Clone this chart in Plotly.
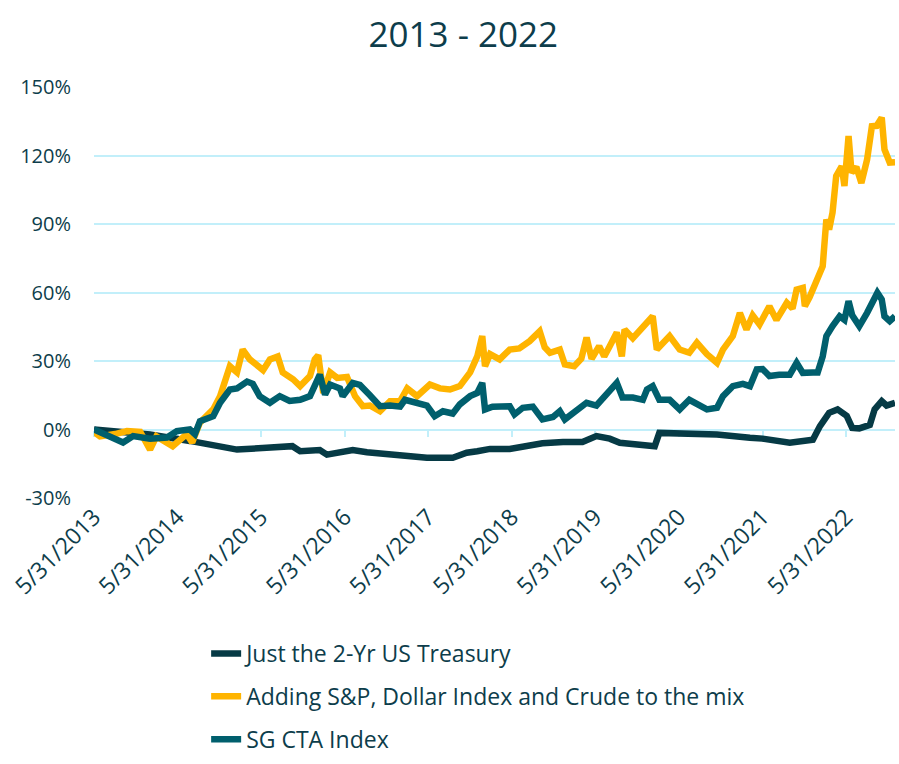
import plotly.graph_objects as go

# ---------------- data (cumulative return, %) ----------------
treasury_dates = ["2013-05-31","2014-01-31","2014-07-24","2014-11-03","2015-02-15","2015-06-24",
    "2015-10-03","2015-10-15","2015-11-18","2016-02-12","2016-03-14","2016-05-10","2016-07-05",
    "2016-09-05","2016-11-01","2017-01-28","2017-05-25","2017-09-15","2017-11-15","2017-12-31",
    "2018-02-25","2018-05-22","2018-07-18","2018-10-12","2019-01-10","2019-04-05","2019-06-05",
    "2019-08-02","2019-09-15","2019-11-28","2020-02-15","2020-03-06","2020-06-15","2020-11-13",
    "2021-04-06","2021-05-31","2021-09-27","2022-01-06","2022-02-06","2022-03-18","2022-04-24",
    "2022-06-03","2022-06-27","2022-07-28","2022-09-12","2022-10-03","2022-11-03","2022-11-24",
    "2022-12-31"]
treasury_vals = [0,-2.2,-5,-6.6,-8.8,-8,-8,-7.3,-9.5,-9,-11,-10,-9,-10,-10.5,-11.5,-12.4,-12.4,
    -10.2,-9.5,-8.5,-8.5,-7.3,-6,-5.5,-5.5,-2.9,-4,-5.8,-6.6,-7.3,-1.5,-1.5,-2.2,-3.6,-4,-5.8,
    -4.5,1.5,7.3,8.8,6,0.7,0.5,2,8.8,12.4,10.5,11.7]

mix_dates = ["2013-05-31","2013-06-26","2013-08-31","2013-10-22","2013-12-19","2014-01-31",
    "2014-02-28","2014-05-10","2014-07-10","2014-08-03","2014-09-06","2014-11-03","2014-12-03",
    "2015-01-15","2015-02-15","2015-03-12","2015-04-12","2015-05-12","2015-06-09","2015-07-09",
    "2015-08-12","2015-09-03","2015-10-18","2015-11-18","2015-12-31","2016-01-21","2016-02-05",
    "2016-02-27","2016-03-28","2016-04-28","2016-06-10","2016-07-15","2016-08-18","2016-09-18",
    "2016-11-01","2016-12-15","2017-01-28","2017-02-28","2017-04-12","2017-06-07","2017-07-21",
    "2017-09-03","2017-10-16","2017-11-30","2017-12-31","2018-01-22","2018-02-03","2018-02-25",
    "2018-04-08","2018-05-22","2018-07-03","2018-08-17","2018-09-30","2018-10-22","2018-11-14",
    "2018-12-27","2019-01-18","2019-02-28","2019-03-31","2019-04-23","2019-05-15","2019-06-17",
    "2019-07-09","2019-08-02","2019-09-02","2019-09-24","2019-10-06","2019-11-11","2019-12-25",
    "2020-02-06","2020-02-24","2020-03-20","2020-04-20","2020-06-03","2020-07-15","2020-08-17",
    "2020-09-30","2020-11-13","2020-12-09","2021-01-21","2021-02-21","2021-03-22","2021-04-18",
    "2021-05-18","2021-06-30","2021-07-31","2021-09-14","2021-10-09","2021-10-27","2021-11-23",
    "2021-12-02","2021-12-23","2022-01-27","2022-02-18","2022-03-06","2022-03-18","2022-04-02",
    "2022-04-18","2022-05-12","2022-05-24","2022-06-11","2022-06-24","2022-07-15","2022-08-06",
    "2022-08-31","2022-09-21","2022-10-12","2022-11-03","2022-11-15","2022-12-08","2022-12-31"]
mix_vals = [-1,-3,-2,-0.7,-1,-8.8,-3,-7.3,-2,-5.7,3,8.8,14.6,27.7,25,35,30.7,28,26,30.7,32,25,
    22,19,23.4,30.7,32.5,16,25,22.6,23,14.6,10.2,10.5,8,12.4,12.4,18,14.6,19.7,18,17.5,19,25,
    32,40.9,27.7,33,30.7,35,35.5,38.7,43,36,33.6,35,28.5,27.7,31,40.3,31,36.5,32,36.5,42.5,32,
    43.8,40,45.3,49.6,35,38,40.9,35,33.6,38,33,29.2,35,40.9,51,43.8,50,46,54,48,55.5,53,61.3,
    62,54,58,67,71.5,92,87.6,95,111,115.3,106.6,128.5,112.5,115,108,118.2,132.8,133,136.6,
    122.6,116.9,117]

cta_dates = ["2013-05-31","2013-08-09","2013-10-05","2013-11-18","2014-01-31","2014-04-15",
    "2014-05-28","2014-07-24","2014-08-15","2014-09-06","2014-11-03","2014-12-03","2015-01-15",
    "2015-02-15","2015-03-31","2015-04-25","2015-05-25","2015-07-09","2015-08-21","2015-10-03",
    "2015-11-18","2015-12-31","2016-01-31","2016-02-12","2016-03-06","2016-03-28","2016-05-10",
    "2016-05-22","2016-07-05","2016-08-05","2016-09-18","2016-11-01","2016-12-15","2017-01-28",
    "2017-02-18","2017-04-12","2017-05-25","2017-06-28","2017-08-03","2017-09-15","2017-10-16",
    "2017-11-30","2017-12-31","2018-01-22","2018-02-03","2018-03-08","2018-04-08","2018-05-22",
    "2018-06-12","2018-07-18","2018-08-31","2018-10-12","2018-11-27","2018-12-27","2019-01-18",
    "2019-03-10","2019-04-23","2019-06-05","2019-07-02","2019-09-02","2019-09-27","2019-11-11",
    "2019-12-25","2020-01-12","2020-02-06","2020-03-06","2020-04-20","2020-06-03","2020-07-15",
    "2020-08-27","2020-09-30","2020-11-13","2020-12-09","2021-01-21","2021-03-06","2021-04-06",
    "2021-05-06","2021-05-31","2021-06-30","2021-08-12","2021-09-27","2021-10-27","2021-11-23",
    "2022-01-06","2022-01-27","2022-02-18","2022-03-06","2022-04-02","2022-05-03","2022-05-24",
    "2022-06-11","2022-06-27","2022-07-28","2022-08-31","2022-09-21","2022-10-15","2022-11-03",
    "2022-11-15","2022-12-08","2022-12-31"]
cta_vals = [0,-3.5,-5.7,-2.9,-4,-3.5,-0.7,0,-2,3.6,5.8,11.7,17.5,18,21,20,14.6,11.7,14.6,12.5,
    13,14.6,21.9,24,15.3,19.7,18,14.6,20.4,19.5,15,10.2,10.5,10,13,11.5,10.5,5.8,8,7,11,14.6,
    16,20.4,8.8,10,10.2,10.2,6.6,9.5,10,4.4,5.5,8,4.4,8,11.7,10.5,13.5,20.4,14,14,13,17.5,19,
    13,13,8.8,13,11,8.8,9.5,14.6,19,20,19,26.3,26.5,23.4,24,24,29.2,24.8,25,25,32,40.9,45.3,
    49.6,48,56.2,50,45.3,51.1,56,59.9,57,49.6,47.5,49.6]

y_tick_vals = [-30, 0, 30, 60, 90, 120, 150]
y_tick_text = ["-30%", "0%", "30%", "60%", "90%", "120%", "150%"]
x_tick_vals = ["2013-05-31","2014-05-31","2015-05-31","2016-05-31","2017-05-31",
               "2018-05-31","2019-05-31","2020-05-31","2021-05-31","2022-05-31"]
x_tick_text = ["5/31/2013","5/31/2014","5/31/2015","5/31/2016","5/31/2017",
               "5/31/2018","5/31/2019","5/31/2020","5/31/2021","5/31/2022"]

names = ["Just the 2-Yr US Treasury", "Adding S&P, Dollar Index and Crude to the mix", "SG CTA Index"]
colors = ["#063a45", "#ffb400", "#005f6d"]

TXT = "#0d3d4b"
FONT = "Open Sans"
GRID = "#c2effa"

fig = go.Figure()
series = [(treasury_dates, treasury_vals), (mix_dates, mix_vals), (cta_dates, cta_vals)]
for i, (d, v) in enumerate(series):
    fig.add_trace(go.Scatter(x=d, y=v, mode="lines", name=names[i], legendgroup=str(i),
                             line=dict(color=colors[i], width=6.5)))

# helper axis carrying the small tick marks on the 0% line
fig.add_trace(go.Scatter(x=[], y=[], xaxis="x2", yaxis="y", showlegend=False, hoverinfo="skip"))

fig.update_layout(
    width=899, height=764,
    paper_bgcolor="white", plot_bgcolor="white",
    margin=dict(l=94, r=4, t=87, b=266, autoexpand=False),
    font=dict(family=FONT, color=TXT, size=20),
    title=dict(text="2013 - 2022", x=0.461, xanchor="center", xref="paper",
               y=0.954, yanchor="middle",
               font=dict(family=FONT, size=35, color=TXT)),
    showlegend=True,
    legend=dict(orientation="v", x=0.14, xanchor="left", y=-0.326, yanchor="top",
                font=dict(family=FONT, size=23, color=TXT), tracegroupgap=10,
                bgcolor="rgba(0,0,0,0)"),
    xaxis=dict(type="date", range=["2013-05-31", "2022-12-31"],
               tickmode="array", tickvals=x_tick_vals, ticktext=x_tick_text, tickangle=-45,
               showgrid=False, zeroline=False, showline=False, ticks="", automargin=False,
               tickfont=dict(family=FONT, size=23, color=TXT)),
    xaxis2=dict(type="date", overlaying="x", anchor="free", position=1/6, matches="x",
                tickmode="array", tickvals=x_tick_vals, showticklabels=False,
                ticks="outside", ticklen=6, tickwidth=2, tickcolor=GRID, layer="below traces",
                showgrid=False, zeroline=False, showline=False),
)
fig.update_yaxes(range=[-30, 150], tickmode="array", tickvals=y_tick_vals, ticktext=y_tick_text,
                 showgrid=True, gridcolor=GRID, gridwidth=2, zeroline=False, showline=False,
                 ticks="", automargin=False, ticklabelstandoff=22,
                 tickfont=dict(family=FONT, size=20, color=TXT))

fig.write_html("out.html", config={"displayModeBar": False},
               post_script="document.body.style.margin='0px';")
